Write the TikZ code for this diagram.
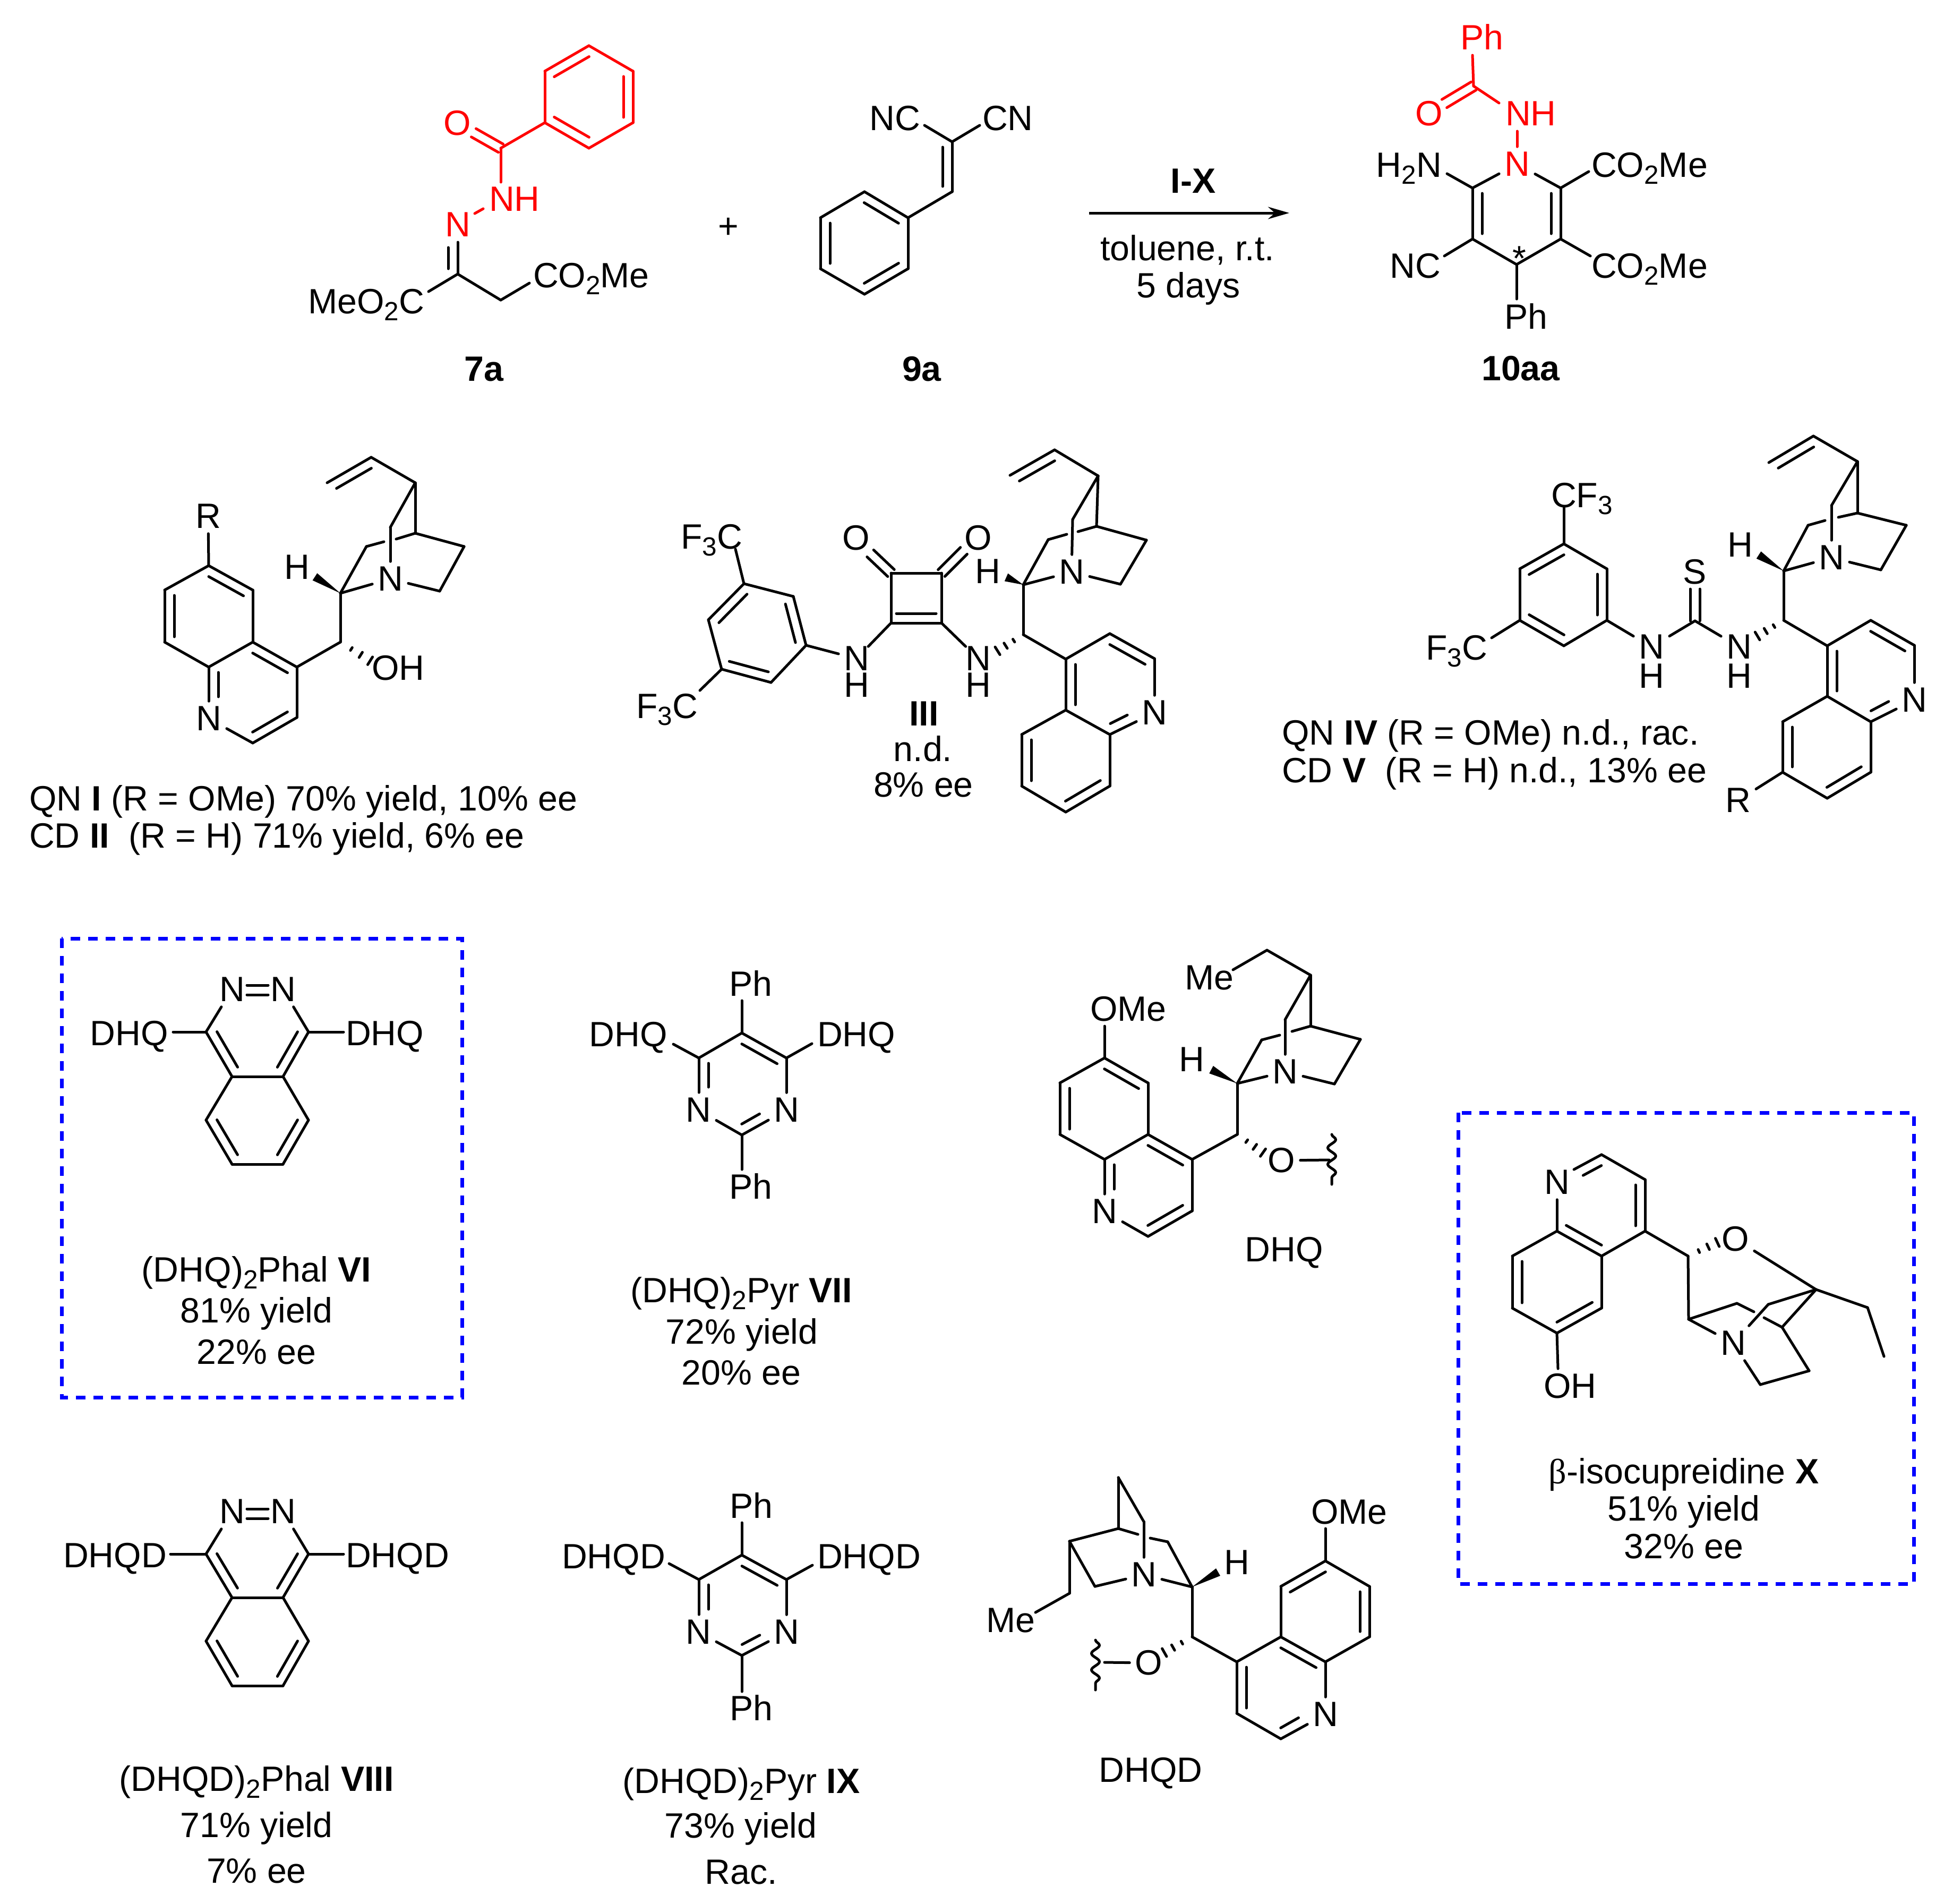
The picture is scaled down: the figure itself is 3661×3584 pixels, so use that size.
\documentclass[tikz,border=0pt]{standalone}
\usepackage{fontspec}
\setmainfont{Liberation Sans}
\newfontfamily\betafont{Liberation Serif}
\usepackage{tikz}
\usetikzlibrary{graphs, calc, arrows.meta, decorations.pathmorphing}

\newcommand{\subs}[1]{\raisebox{-.2em}{\fontsize{9.9}{10}\selectfont #1}}
\newcommand{\dbond}[3][]{\draw[bond,shorten <=2pt,shorten >=2pt,#1] ($(#2)!3.6pt!-90:(#3)$) -- ($(#3)!3.6pt!90:(#2)$);}
\newcommand{\twinbond}[3][]{\draw[bond,#1] ($(#2)!1.8pt!-90:(#3)$) -- ($(#3)!1.8pt!90:(#2)$); \draw[bond,#1] ($(#2)!1.8pt!90:(#3)$) -- ($(#3)!1.8pt!-90:(#2)$);}
\newcommand{\hashbond}[2]{\foreach \hp in {0.35,0.65,0.95} \draw[bond] ($(#1)!\hp!(#2)!{\hp*1.8pt}!90:(#2)$) -- ($(#1)!\hp!(#2)!{\hp*1.8pt}!-90:(#2)$);}
\newcommand{\wedgebond}[2]{\fill ($(#2)!1.6pt!90:(#1)$) -- ($(#2)!1.6pt!-90:(#1)$) -- (#1) -- cycle;}

\tikzset{
    bond/.style={line width=1pt, line cap=round, line join=round},
    atom/.style={inner sep=0pt, outer sep=2pt},
    atomnh/.style={inner xsep=2pt, inner ysep=0pt, outer sep=0pt},
    lbl/.style={inner sep=0pt, anchor=base},
    lblh/.style={inner sep=0pt, outer sep=0pt},
    lblr/.style={inner sep=0pt, anchor=base east},
    lbll/.style={inner sep=0pt, anchor=base west},
    wavy/.style={bond, decorate, decoration={snake, segment length=6.2pt, amplitude=1.5pt}},
    dbox/.style={line width=1.4pt, draw=blue, dash pattern=on 3.6pt off 3pt},
    every node/.style={font=\fontsize{13.24}{15}\selectfont}
}

\begin{document}
\begin{tikzpicture}[x=.2pt, y=-.2pt]
    \useasboundingbox (0,0) rectangle (3661,3584);

    % 7a
    \coordinate (a1) at (1109,86); \coordinate (a2) at (1192,134); \coordinate (a3) at (1192,231);
    \coordinate (a4) at (1109,279); \coordinate (a5) at (1026,231); \coordinate (a6) at (1026,134);
    \coordinate (a7) at (943,279); \coordinate (a9) at (892,250); \coordinate (a11) at (943,343);
    \coordinate (a13) at (894,402); \coordinate (a14) at (910,393); \coordinate (a15) at (862,516);
    \coordinate (a16) at (862,456); \coordinate (a17) at (807,549); \coordinate (a18) at (943,565);
    \coordinate (a19) at (997,533);
    \node[atom, text=red] (a8) at (861,232) {O};
    \node[lbll, text=red] (a10) at (920,398) {NH};
    \node[atom, text=red] (a12) at (862,423) {N};
    \node[lblr] (a20) at (800,590) {MeO\subs{2}C};
    \node[lbll] (a21) at (1003,541) {CO\subs{2}Me};
    \node[lbl] (a22) at (912,717) {\textbf{7a}};
    \graph[edges={bond,red}]{(a1) -- (a2) -- (a3) -- (a4) -- (a5) -- (a6) -- (a1); (a5) -- (a7) -- (a11); (a13) -- (a14);};
    \graph[edges={bond}]{(a15) -- (a16); (a17) -- (a15) -- (a18) -- (a19);};
    \dbond[red]{a6}{a1} \dbond[red]{a2}{a3} \dbond[red]{a4}{a5}
    \twinbond[red]{a7}{a9}
    \dbond{a16}{a15}

    \node (plus) at (1372,429) {+};

    % 9a
    \coordinate (b1) at (1628,361); \coordinate (b2) at (1710,410); \coordinate (b3) at (1710,506);
    \coordinate (b4) at (1628,554); \coordinate (b5) at (1545,506); \coordinate (b6) at (1545,410);
    \coordinate (b7) at (1793,361); \coordinate (b8) at (1793,267); \coordinate (b9) at (1741,236);
    \coordinate (b10) at (1845,236);
    \node[lblr] (b11) at (1734,245) {NC};
    \node[lbll] (b12) at (1849,245) {CN};
    \node[lbl] (b13) at (1736,717) {\textbf{9a}};
    \graph[edges={bond}]{(b1) -- (b2) -- (b3) -- (b4) -- (b5) -- (b6) -- (b1); (b2) -- (b7) -- (b8) -- (b9); (b8) -- (b10);};
    \dbond{b1}{b2} \dbond{b3}{b4} \dbond{b5}{b6} \dbond{b8}{b7}

    % arrow
    \coordinate (arr1) at (2051,401); \coordinate (arr2) at (2428,401);
    \draw[line width=1pt, -{Stealth[length=8pt, width=4.6pt]}] (arr1) -- (arr2);
    \node[lbl] (arr3) at (2247,363) {\textbf{I-X}};
    \node[lbl] (arr4) at (2236,490) {toluene, r.t.};
    \node[lbl] (arr5) at (2238,560) {5 days};

    % 10aa
    \coordinate (p2) at (2773,104); \coordinate (p3) at (2775,162); \coordinate (p4) at (2720,195);
    \coordinate (p6) at (2823,194); \coordinate (p7) at (2857,247); \coordinate (p9) at (2773,354);
    \coordinate (p10) at (2939,354); \coordinate (p11) at (2939,450); \coordinate (p12) at (2856,498);
    \coordinate (p13) at (2773,450); \coordinate (p14) at (2725,327); \coordinate (p15) at (2992,323);
    \coordinate (p16) at (2720,482); \coordinate (p17) at (2995,482); \coordinate (p18) at (2856,563);
    \node[lbl, text=red] (p1) at (2791,94) {Ph};
    \node[atom, text=red] (p5) at (2691,214) {O};
    \node[lbll, text=red] (p19) at (2834,236) {NH};
    \node[atom, text=red] (p8) at (2857,309) {N};
    \node[lblr] (p20) at (2716,333) {H\subs{2}N};
    \node[lbll] (p21) at (2996,333) {CO\subs{2}Me};
    \node[lblr] (p22) at (2714,523) {NC};
    \node[lbll] (p23) at (2996,523) {CO\subs{2}Me};
    \node[lbl] (p24) at (2874,619) {Ph};
    \node (p25) at (2861,487) {*};
    \node[lbl] (p26) at (2864,716) {\textbf{10aa}};
    \graph[edges={bond,red}]{(p2) -- (p3) -- (p6); (p7) -- (p8);};
    \graph[edges={bond}]{(p9) -- (p8) -- (p10) -- (p11) -- (p12) -- (p13) -- (p9) -- (p14); (p10) -- (p15); (p13) -- (p16); (p11) -- (p17); (p12) -- (p18);};
    \twinbond[red]{p3}{p4}
    \dbond{p10}{p11} \dbond{p13}{p9}

    % QN I / CD II
    \coordinate (q1) at (393,1065); \coordinate (q2) at (476,1111); \coordinate (q3) at (476,1209);
    \coordinate (q4) at (393,1256); \coordinate (q5) at (310,1209); \coordinate (q6) at (310,1111);
    \coordinate (q7) at (559,1256); \coordinate (q8) at (559,1351); \coordinate (q9) at (476,1399);
    \coordinate (q10) at (393,1322); \coordinate (q11) at (641,1209); \coordinate (q12) at (641,1117);
    \coordinate (q13) at (700,1246); \coordinate (q14) at (593,1086); \coordinate (q15) at (690,1029);
    \coordinate (q16) at (723,1020); \coordinate (q17) at (746,1015); \coordinate (q18) at (782,1004);
    \coordinate (q19) at (874,1029); \coordinate (q20) at (828,1113); \coordinate (q21) at (782,909);
    \coordinate (q22) at (735,993); \coordinate (q23) at (699,861); \coordinate (q24) at (616,909);
    \node[atom] (qR) at (392,972) {R};
    \node[atom] (qN1) at (393,1353) {N};
    \node[atom] (qN2) at (735,1090) {N};
    \node[atom] (qH) at (559,1068) {H};
    \node[lbll] (qOH) at (699,1280) {OH};
    \node[lbll] (qcap1) at (54,1526) {QN \textbf{I} (R = OMe) 70\% yield, 10\% ee};
    \node[lbll] (qcap2) at (54,1596) {CD \textbf{II}\ \ (R = H) 71\% yield, 6\% ee};
    \graph[edges={bond}]{(qR) -- (q1) -- (q2) -- (q3) -- (q4) -- (q5) -- (q6) -- (q1); (q3) -- (q7) -- (q8) -- (q9) -- (qN1) -- (q4); (q7) -- (q11) -- (q12) -- (q15) -- (q16); (q17) -- (q18) -- (q19) -- (q20) -- (qN2) -- (q12); (q18) -- (q21) -- (q22) -- (qN2); (q21) -- (q23) -- (q24);};
    \dbond{q1}{q2} \dbond{q5}{q6} \dbond{q3}{q7} \dbond{q8}{q9} \dbond{q10}{q4} \dbond{q24}{q23}
    \hashbond{q11}{q13}
    \wedgebond{q12}{q14}

    % III
    \coordinate (s1) at (1401,1099); \coordinate (s2) at (1494,1123); \coordinate (s3) at (1518,1215);
    \coordinate (s4) at (1452,1285); \coordinate (s5) at (1359,1260); \coordinate (s6) at (1334,1167);
    \coordinate (s7) at (1385,1034); \coordinate (s8) at (1318,1300); \coordinate (s9) at (1678,1079);
    \coordinate (s10) at (1773,1079); \coordinate (s11) at (1773,1173); \coordinate (s12) at (1678,1173);
    \coordinate (s13) at (1639,1042); \coordinate (s14) at (1815,1037); \coordinate (s15) at (1927,1195);
    \coordinate (s16) at (1927,1101); \coordinate (s17) at (1876,1227); \coordinate (s18) at (1895,1087);
    \coordinate (s19) at (1974,1016); \coordinate (s20) at (2009,1006); \coordinate (s21) at (2030,1001);
    \coordinate (s22) at (2065,991); \coordinate (s23) at (2159,1017); \coordinate (s24) at (2110,1100);
    \coordinate (s25) at (2068,896); \coordinate (s26) at (2020,978); \coordinate (s27) at (1986,847);
    \coordinate (s28) at (1902,895); \coordinate (s29) at (2007,1241); \coordinate (s30) at (2090,1193);
    \coordinate (s31) at (2174,1240); \coordinate (s32) at (2090,1383); \coordinate (s33) at (2007,1337);
    \coordinate (s34) at (1924,1383); \coordinate (s35) at (1924,1480); \coordinate (s36) at (2007,1529);
    \coordinate (s37) at (2090,1480); \coordinate (s38) at (2140,1358);
    \node[lblr] (sF1) at (1399,1033) {F\subs{3}C};
    \node[lblr] (sF2) at (1315,1352) {F\subs{3}C};
    \node[atom] (sO1) at (1612,1013) {O};
    \node[atom] (sO2) at (1842,1013) {O};
    \node[atomnh] (sN1) at (1613,1240) {N};
    \node[lblh] (sH1) at (1613,1290) {H};
    \node[atomnh] (sN2) at (1842,1240) {N};
    \node[lblh] (sH2) at (1842,1290) {H};
    \node[atom] (sN3) at (2018,1077) {N};
    \node[atom] (sN4) at (2174,1342) {N};
    \node[atom] (sH3) at (1860,1076) {H};
    \node[lbl] (scap1) at (1740,1366) {\textbf{III}};
    \node[lbl] (scap2) at (1738,1433) {n.d.};
    \node[lbl] (scap3) at (1739,1500) {8\% ee};
    \graph[edges={bond}]{(s1) -- (s2) -- (s3) -- (s4) -- (s5) -- (s6) -- (s1) -- (s7); (s5) -- (s8); (s3) -- (sN1) -- (s12) -- (s9) -- (s10) -- (s11) -- (s12); (s11) -- (sN2); (s15) -- (s16) -- (s19) -- (s20); (s21) -- (s22) -- (s23) -- (s24) -- (sN3) -- (s16); (s22) -- (s25) -- (s26) -- (sN3); (s25) -- (s27) -- (s28); (s15) -- (s29) -- (s30) -- (s31) -- (sN4) -- (s32) -- (s33) -- (s29); (s33) -- (s34) -- (s35) -- (s36) -- (s37) -- (s32);};
    \dbond{s6}{s1} \dbond{s2}{s3} \dbond{s4}{s5} \dbond{s11}{s12} \dbond{s28}{s27} \dbond{s38}{s32} \dbond{s30}{s31} \dbond{s33}{s29} \dbond{s35}{s34} \dbond{s37}{s36}
    \twinbond{s9}{s13}
    \twinbond{s10}{s14}
    \hashbond{s15}{s17}
    \wedgebond{s16}{s18}

    % QN IV / CD V
    \coordinate (t1) at (2945,1024); \coordinate (t2) at (3026,1071); \coordinate (t3) at (3026,1168);
    \coordinate (t4) at (2945,1216); \coordinate (t5) at (2862,1168); \coordinate (t6) at (2862,1071);
    \coordinate (t7) at (2945,956); \coordinate (t8) at (2809,1201); \coordinate (t9) at (3192,1169);
    \coordinate (t10) at (3192,1109); \coordinate (t11) at (3359,1168); \coordinate (t12) at (3359,1075);
    \coordinate (t13) at (3307,1199); \coordinate (t14) at (3312,1045); \coordinate (t15) at (3405,989);
    \coordinate (t16) at (3437,980); \coordinate (t17) at (3462,974); \coordinate (t18) at (3498,966);
    \coordinate (t19) at (3590,989); \coordinate (t20) at (3542,1073); \coordinate (t21) at (3498,869);
    \coordinate (t22) at (3449,952); \coordinate (t23) at (3415,821); \coordinate (t24) at (3331,871);
    \coordinate (t25) at (3441,1216); \coordinate (t26) at (3523,1168); \coordinate (t27) at (3605,1215);
    \coordinate (t28) at (3523,1359); \coordinate (t29) at (3441,1311); \coordinate (t30) at (3357,1359);
    \coordinate (t31) at (3357,1454); \coordinate (t32) at (3441,1503); \coordinate (t33) at (3523,1454);
    \coordinate (t34) at (3574,1332);
    \node[lbll] (tF1) at (2920,955) {CF\subs{3}};
    \node[lblr] (tF2) at (2802,1242) {F\subs{3}C};
    \node[atomnh] (tN1) at (3110,1218) {N};
    \node[lblh] (tH1) at (3110,1273) {H};
    \node[atomnh] (tN2) at (3275,1218) {N};
    \node[lblh] (tH2) at (3275,1273) {H};
    \node[atom] (tS) at (3192,1077) {S};
    \node[atom] (tN3) at (3449,1050) {N};
    \node[atom] (tN4) at (3605,1318) {N};
    \node[atom] (tH3) at (3277,1026) {H};
    \node[atom] (tR) at (3273,1507) {R};
    \node[lbll] (tcap1) at (2413,1402) {QN \textbf{IV} (R = OMe) n.d., rac.};
    \node[lbll] (tcap2) at (2413,1473) {CD \textbf{V}\ \ (R = H) n.d., 13\% ee};
    \graph[edges={bond}]{(t1) -- (t2) -- (t3) -- (t4) -- (t5) -- (t6) -- (t1) -- (t7); (t5) -- (t8); (t3) -- (tN1) -- (t9) -- (tN2); (t11) -- (t12) -- (t15) -- (t16); (t17) -- (t18) -- (t19) -- (t20) -- (tN3) -- (t12); (t18) -- (t21) -- (t22) -- (tN3); (t21) -- (t23) -- (t24); (t11) -- (t25) -- (t26) -- (t27) -- (tN4) -- (t28) -- (t29) -- (t25); (t29) -- (t30) -- (t31) -- (t32) -- (t33) -- (t28); (t31) -- (tR);};
    \dbond{t6}{t1} \dbond{t2}{t3} \dbond{t4}{t5} \dbond{t24}{t23} \dbond{t26}{t27} \dbond{t29}{t25} \dbond{t34}{t28} \dbond{t31}{t30} \dbond{t33}{t32}
    \twinbond{t9}{t10}
    \hashbond{t11}{t13}
    \wedgebond{t12}{t14}

    % VI
    \coordinate (box1a) at (116,1767); \coordinate (box1b) at (870,2631);
    \draw[dbox] (box1a) rectangle (box1b);
    \coordinate (u1) at (465,1864); \coordinate (u2) at (505,1864); \coordinate (u3) at (388,1943);
    \coordinate (u4) at (437,2027); \coordinate (u5) at (533,2027); \coordinate (u6) at (581,1943);
    \coordinate (u7) at (388,2109); \coordinate (u8) at (437,2192); \coordinate (u9) at (533,2192);
    \coordinate (u10) at (581,2109); \coordinate (u11) at (326,1943); \coordinate (u12) at (647,1943);
    \node[atom] (uN1) at (437,1863) {N};
    \node[atom] (uN2) at (533,1863) {N};
    \node[lblr] (uD1) at (318,1968) {DHQ};
    \node[lbll] (uD2) at (650,1968) {DHQ};
    \node[lbl] (ucap1) at (483,2413) {(DHQ)\subs{2}Phal \textbf{VI}};
    \node[lbl] (ucap2) at (483,2490) {81\% yield};
    \node[lbl] (ucap3) at (483,2568) {22\% ee};
    \graph[edges={bond}]{(uN1) -- (u3) -- (u4) -- (u5) -- (u6) -- (uN2); (u4) -- (u7) -- (u8) -- (u9) -- (u10) -- (u5); (u11) -- (u3); (u6) -- (u12);};
    \twinbond{u1}{u2}
    \dbond{u6}{u5} \dbond{u4}{u3} \dbond{u10}{u9} \dbond{u8}{u7}

    % VII
    \coordinate (v1) at (1397,1945); \coordinate (v2) at (1481,1992); \coordinate (v3) at (1397,2137);
    \coordinate (v4) at (1316,1992); \coordinate (v5) at (1397,1884); \coordinate (v6) at (1397,2202);
    \coordinate (v7) at (1268,1966); \coordinate (v8) at (1529,1965); \coordinate (v9) at (1316,2057);
    \coordinate (v10) at (1448,2108);
    \node[atom] (vN1) at (1481,2090) {N};
    \node[atom] (vN2) at (1315,2090) {N};
    \node[lbl] (vP1) at (1414,1875) {Ph};
    \node[lbl] (vP2) at (1414,2257) {Ph};
    \node[lblr] (vD1) at (1258,1970) {DHQ};
    \node[lbll] (vD2) at (1538,1970) {DHQ};
    \node[lbl] (vcap1) at (1396,2452) {(DHQ)\subs{2}Pyr \textbf{VII}};
    \node[lbl] (vcap2) at (1397,2530) {72\% yield};
    \node[lbl] (vcap3) at (1396,2607) {20\% ee};
    \graph[edges={bond}]{(v9) -- (v4) -- (v1) -- (v2) -- (vN1) -- (v3) -- (vN2); (v1) -- (v5); (v3) -- (v6); (v7) -- (v4); (v2) -- (v8);};
    \dbond{v1}{v2} \dbond{v9}{v4} \dbond{v10}{v3}

    % DHQ
    \coordinate (h1) at (2322,1826); \coordinate (h2) at (2386,1789); \coordinate (h3) at (2468,1836);
    \coordinate (h4) at (2468,1932); \coordinate (h5) at (2420,1920); \coordinate (h6) at (2433,1942);
    \coordinate (h7) at (2410,1949); \coordinate (h8) at (2376,1958); \coordinate (h9) at (2562,1957);
    \coordinate (h10) at (2513,2041); \coordinate (h11) at (2330,2040); \coordinate (h12) at (2330,2136);
    \coordinate (h13) at (2281,2014); \coordinate (h14) at (2381,2172); \coordinate (h15) at (2503,2184);
    \coordinate (h16) at (2508,2136); \coordinate (h17) at (2508,2230); \coordinate (h18) at (2080,1932);
    \coordinate (h19) at (2080,1992); \coordinate (h20) at (2162,2039); \coordinate (h21) at (2162,2136);
    \coordinate (h22) at (2080,2183); \coordinate (h23) at (1996,2136); \coordinate (h24) at (1996,2039);
    \coordinate (h25) at (2245,2183); \coordinate (h26) at (2245,2280); \coordinate (h27) at (2162,2328);
    \coordinate (h28) at (2080,2249);
    \node[lblr] (hMe) at (2324,1863) {Me};
    \node[lbll] (hOMe) at (2052,1922) {OMe};
    \node[atom] (hN1) at (2420,2018) {N};
    \node[atom] (hN2) at (2080,2281) {N};
    \node[atom] (hH) at (2244,1995) {H};
    \node[atom] (hO) at (2413,2185) {O};
    \node[lbl] (hcap) at (2418,2375) {DHQ};
    \graph[edges={bond}]{(h1) -- (h2) -- (h3) -- (h4) -- (h6); (h3) -- (h5) -- (hN1) -- (h10) -- (h9) -- (h4); (h7) -- (h8) -- (h11) -- (hN1); (h11) -- (h12) -- (h25) -- (h26) -- (h27) -- (hN2) -- (h22) -- (h21) -- (h25); (h18) -- (h19) -- (h20) -- (h21); (h22) -- (h23) -- (h24) -- (h19); (hO) -- (h15);};
    \dbond{h19}{h20} \dbond{h23}{h24} \dbond{h21}{h25} \dbond{h26}{h27} \dbond{h28}{h22}
    \hashbond{h12}{h14}
    \wedgebond{h11}{h13}
    \draw[wavy] (h16) -- (h17);

    % X
    \coordinate (box2a) at (2746,2095); \coordinate (box2b) at (3604,2982);
    \draw[dbox] (box2a) rectangle (box2b);
    \coordinate (x1) at (3016,2174); \coordinate (x2) at (3098,2221); \coordinate (x3) at (3098,2318);
    \coordinate (x4) at (3016,2365); \coordinate (x5) at (2932,2318); \coordinate (x6) at (2964,2202);
    \coordinate (x7) at (3016,2463); \coordinate (x8) at (2932,2510); \coordinate (x9) at (2848,2463);
    \coordinate (x10) at (2848,2365); \coordinate (x11) at (2934,2577); \coordinate (x12) at (3179,2365);
    \coordinate (x13) at (3237,2338); \coordinate (x14) at (3180,2484); \coordinate (x15) at (3420,2428);
    \coordinate (x16) at (3271,2454); \coordinate (x17) at (3303,2470); \coordinate (x18) at (3322,2481);
    \coordinate (x19) at (3356,2499); \coordinate (x20) at (3330,2456); \coordinate (x21) at (3407,2581);
    \coordinate (x22) at (3315,2607); \coordinate (x23) at (3517,2462); \coordinate (x24) at (3548,2554);
    \node[atom] (xN1) at (2932,2226) {N};
    \node[atom] (xN2) at (3264,2529) {N};
    \node[atom] (xO) at (3268,2333) {O};
    \node[lbll] (xOH) at (2906,2632) {OH};
    \node[lbl] (xcap1) at (3171,2793) {{\betafont β}-isocupreidine \textbf{X}};
    \node[lbl] (xcap2) at (3171,2863) {51\% yield};
    \node[lbl] (xcap3) at (3171,2934) {32\% ee};
    \graph[edges={bond}]{(xN1) -- (x5) -- (x4) -- (x3) -- (x2) -- (x1) -- (x6); (x5) -- (x10) -- (x9) -- (x8) -- (x7) -- (x4); (x8) -- (x11); (x3) -- (x12) -- (x14) -- (x16) -- (x17); (x14) -- (xN2) -- (x20) -- (x15) -- (x19) -- (x18); (x19) -- (x21) -- (x22) -- (xN2); (xO) -- (x15) -- (x23) -- (x24);};
    \dbond{x6}{x1} \dbond{x2}{x3} \dbond{x4}{x5} \dbond{x7}{x8} \dbond{x9}{x10}
    \hashbond{x12}{x13}

    % VIII
    \coordinate (w1) at (465,2850); \coordinate (w2) at (505,2850); \coordinate (w3) at (388,2926);
    \coordinate (w4) at (437,3008); \coordinate (w5) at (533,3008); \coordinate (w6) at (581,2926);
    \coordinate (w7) at (388,3090); \coordinate (w8) at (437,3174); \coordinate (w9) at (533,3174);
    \coordinate (w10) at (581,3090); \coordinate (w11) at (321,2926); \coordinate (w12) at (647,2926);
    \node[atom] (wN1) at (437,2846) {N};
    \node[atom] (wN2) at (533,2846) {N};
    \node[lblr] (wD1) at (315,2951) {DHQD};
    \node[lbll] (wD2) at (650,2951) {DHQD};
    \node[lbl] (wcap1) at (483,3372) {(DHQD)\subs{2}Phal \textbf{VIII}};
    \node[lbl] (wcap2) at (483,3459) {71\% yield};
    \node[lbl] (wcap3) at (483,3545) {7\% ee};
    \graph[edges={bond}]{(wN1) -- (w3) -- (w4) -- (w5) -- (w6) -- (wN2); (w4) -- (w7) -- (w8) -- (w9) -- (w10) -- (w5); (w11) -- (w3); (w6) -- (w12);};
    \twinbond{w1}{w2}
    \dbond{w6}{w5} \dbond{w4}{w3} \dbond{w10}{w9} \dbond{w8}{w7}

    % IX
    \coordinate (y1) at (1397,2928); \coordinate (y2) at (1481,2974); \coordinate (y3) at (1397,3117);
    \coordinate (y4) at (1316,2974); \coordinate (y5) at (1397,2867); \coordinate (y6) at (1397,3185);
    \coordinate (y7) at (1260,2944); \coordinate (y8) at (1530,2947); \coordinate (y9) at (1316,3040);
    \coordinate (y10) at (1448,3090);
    \node[atom] (yN1) at (1481,3073) {N};
    \node[atom] (yN2) at (1315,3073) {N};
    \node[lbl] (yP1) at (1415,2858) {Ph};
    \node[lbl] (yP2) at (1415,3239) {Ph};
    \node[lblr] (yD1) at (1254,2953) {DHQD};
    \node[lbll] (yD2) at (1538,2953) {DHQD};
    \node[lbl] (ycap1) at (1396,3376) {(DHQD)\subs{2}Pyr \textbf{IX}};
    \node[lbl] (ycap2) at (1395,3460) {73\% yield};
    \node[lbl] (ycap3) at (1396,3547) {Rac.};
    \graph[edges={bond}]{(y9) -- (y4) -- (y1) -- (y2) -- (yN1) -- (y3) -- (yN2); (y1) -- (y5); (y3) -- (y6); (y7) -- (y4); (y2) -- (y8);};
    \dbond{y1}{y2} \dbond{y9}{y4} \dbond{y10}{y3}

    % DHQD
    \coordinate (d1) at (2106,2782); \coordinate (d2) at (2106,2878); \coordinate (d3) at (2154,2865);
    \coordinate (d4) at (2143,2889); \coordinate (d5) at (2166,2896); \coordinate (d6) at (2199,2903);
    \coordinate (d7) at (2245,2988); \coordinate (d8) at (2014,2902); \coordinate (d9) at (2062,2987);
    \coordinate (d10) at (2014,3000); \coordinate (d11) at (1950,3036); \coordinate (d12) at (2294,2960);
    \coordinate (d13) at (2245,3082); \coordinate (d14) at (2190,3113); \coordinate (d15) at (2080,3130);
    \coordinate (d16) at (2063,3088); \coordinate (d17) at (2063,3182); \coordinate (d18) at (2329,3129);
    \coordinate (d19) at (2412,3082); \coordinate (d20) at (2496,3129); \coordinate (d21) at (2412,3274);
    \coordinate (d22) at (2329,3226); \coordinate (d23) at (2412,2987); \coordinate (d24) at (2496,2939);
    \coordinate (d25) at (2579,2987); \coordinate (d26) at (2579,3082); \coordinate (d27) at (2496,2878);
    \coordinate (d28) at (2463,3245);
    \node[atom] (dN1) at (2154,2965) {N};
    \node[atom] (dN2) at (2496,3228) {N};
    \node[atom] (dH) at (2329,2942) {H};
    \node[atom] (dO) at (2163,3131) {O};
    \node[lblr] (dMe) at (1950,3073) {Me};
    \node[lbll] (dOMe) at (2468,2869) {OMe};
    \node[lbl] (dcap) at (2167,3355) {DHQD};
    \graph[edges={bond}]{(d2) -- (d1) -- (d3) -- (dN1); (d2) -- (d4); (d5) -- (d6) -- (d7) -- (dN1); (d2) -- (d8) -- (d9) -- (dN1); (d8) -- (d10) -- (d11); (d7) -- (d13) -- (d18) -- (d19) -- (d20) -- (dN2) -- (d21) -- (d22) -- (d18); (d19) -- (d23) -- (d24) -- (d25) -- (d26) -- (d20); (d24) -- (d27); (dO) -- (d15);};
    \dbond{d19}{d20} \dbond{d22}{d18} \dbond{d28}{d21} \dbond{d23}{d24} \dbond{d25}{d26}
    \hashbond{d13}{d14}
    \wedgebond{d7}{d12}
    \draw[wavy] (d16) -- (d17);
\end{tikzpicture}
\end{document}
